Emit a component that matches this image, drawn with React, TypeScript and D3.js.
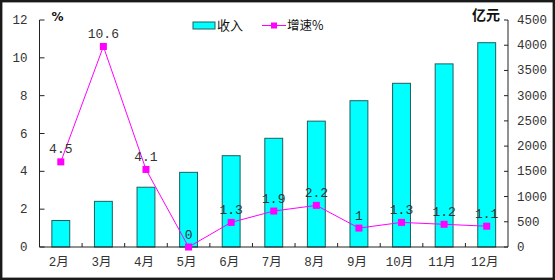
import React from "react";
import * as d3 from "d3";

const categories = ["2月", "3月", "4月", "5月", "6月", "7月", "8月", "9月", "10月", "11月", "12月"];
const revenue = [525, 905, 1185, 1480, 1810, 2155, 2495, 2900, 3245, 3630, 4050];
const growth = [4.5, 10.6, 4.1, 0, 1.3, 1.9, 2.2, 1, 1.3, 1.2, 1.1];
const growthLabels = ["4.5", "10.6", "4.1", "0", "1.3", "1.9", "2.2", "1", "1.3", "1.2", "1.1"];
const leftTicks = [0, 2, 4, 6, 8, 10, 12];
const rightTicks = [0, 500, 1000, 1500, 2000, 2500, 3000, 3500, 4000, 4500];

const W = 555;
const H = 280;
const left = 39.5;
const right = 508;
const top = 20;
const bottom = 247;

export default function App() {
  const x = d3
    .scaleBand<string>()
    .domain(categories)
    .range([left, right])
    .paddingInner(0.58)
    .paddingOuter(0.29);
  const step = (right - left) / categories.length;
  const yL = d3.scaleLinear().domain([0, 12]).range([bottom, top]);
  const yR = d3.scaleLinear().domain([0, 4500]).range([bottom, top]);
  const cx = (c: string) => (x(c) as number) + x.bandwidth() / 2;
  const line = d3
    .line<number>()
    .x((_, i) => cx(categories[i]))
    .y((d) => yL(d));

  const tickFont = "'Liberation Mono', monospace";
  return (
    <svg
      width={W}
      height={H}
      style={{ position: "absolute", left: 0, top: 0, background: "#fff" }}
    >
      <rect x={1.2} y={1.2} width={W - 2.4} height={H - 2.4} fill="#fff" stroke="#1a1a1a" strokeWidth={2.4} />

      {/* bars */}
      {categories.map((c, i) => (
        <rect
          key={c}
          x={x(c)}
          y={yR(revenue[i])}
          width={x.bandwidth()}
          height={bottom - yR(revenue[i])}
          fill="#00FFFF"
          stroke="#1f5f5f"
          strokeWidth={1}
        />
      ))}

      {/* axes */}
      <line x1={left} x2={left} y1={top} y2={bottom} stroke="#222" strokeWidth={1} />
      <line x1={right} x2={right} y1={top} y2={bottom} stroke="#222" strokeWidth={1} />
      <line x1={left} x2={right} y1={bottom} y2={bottom} stroke="#222" strokeWidth={1} />
      {leftTicks.map((t) => (
        <g key={"l" + t}>
          <line x1={left} x2={left + 5} y1={yL(t)} y2={yL(t)} stroke="#222" />
          <text x={left - 12} y={yL(t) + 4} textAnchor="end" fontFamily={tickFont} fontSize={12.5} fill="#333">
            {t}
          </text>
        </g>
      ))}
      {rightTicks.map((t) => (
        <g key={"r" + t}>
          <line x1={right - 4} x2={right} y1={yR(t)} y2={yR(t)} stroke="#222" />
          <text x={right + 9} y={yR(t) + 4} textAnchor="start" fontFamily={tickFont} fontSize={12.5} fill="#333">
            {t}
          </text>
        </g>
      ))}
      {categories.map((c, i) => (
        <g key={"x" + c}>
          {i > 0 && (
            <line x1={left + step * i} x2={left + step * i} y1={bottom} y2={bottom - 4} stroke="#222" />
          )}
          <text
            x={cx(c) - 2}
            y={bottom + 19}
            textAnchor="middle"
            fontFamily="'Liberation Mono', 'Noto Sans CJK SC', monospace"
            fontSize={12.5}
            fill="#333"
          >
            {c}
          </text>
        </g>
      ))}

      {/* line series */}
      <path d={line(growth) || ""} fill="none" stroke="#FF00FF" strokeWidth={1} />
      {growth.map((g, i) => (
        <g key={"m" + i}>
          <rect x={cx(categories[i]) - 3.5} y={yL(g) - 3.5} width={7} height={7} fill="#FF00FF" />
          <text
            x={cx(categories[i])}
            y={yL(g) - 8.5}
            textAnchor="middle"
            fontFamily={tickFont}
            fontSize={13}
            fill="#333"
          >
            {growthLabels[i]}
          </text>
        </g>
      ))}

      {/* unit labels */}
      <text x={57.5} y={21} textAnchor="middle" fontFamily="'DejaVu Sans', sans-serif" fontWeight="bold" fontSize={12} fill="#111">
        %
      </text>
      <text x={486} y={20} textAnchor="middle" fontFamily="'Noto Sans CJK SC', sans-serif" fontWeight="bold" fontSize={14} fill="#111">
        亿元
      </text>

      {/* legend */}
      <rect x={193} y={22} width={22} height={7} fill="#00FFFF" stroke="#1f5f5f" strokeWidth={1} />
      <text x={217} y={30} fontFamily="'Noto Sans CJK SC', sans-serif" fontSize={13} fill="#111">
        收入
      </text>
      <line x1={262} x2={286} y1={25.5} y2={25.5} stroke="#FF00FF" strokeWidth={1} />
      <rect x={271} y={22.5} width={6} height={6} fill="#FF00FF" />
      <text x={287} y={30} fontFamily="'Noto Sans CJK SC', sans-serif" fontSize={12.5} fill="#111">
        增速%
      </text>
    </svg>
  );
}
